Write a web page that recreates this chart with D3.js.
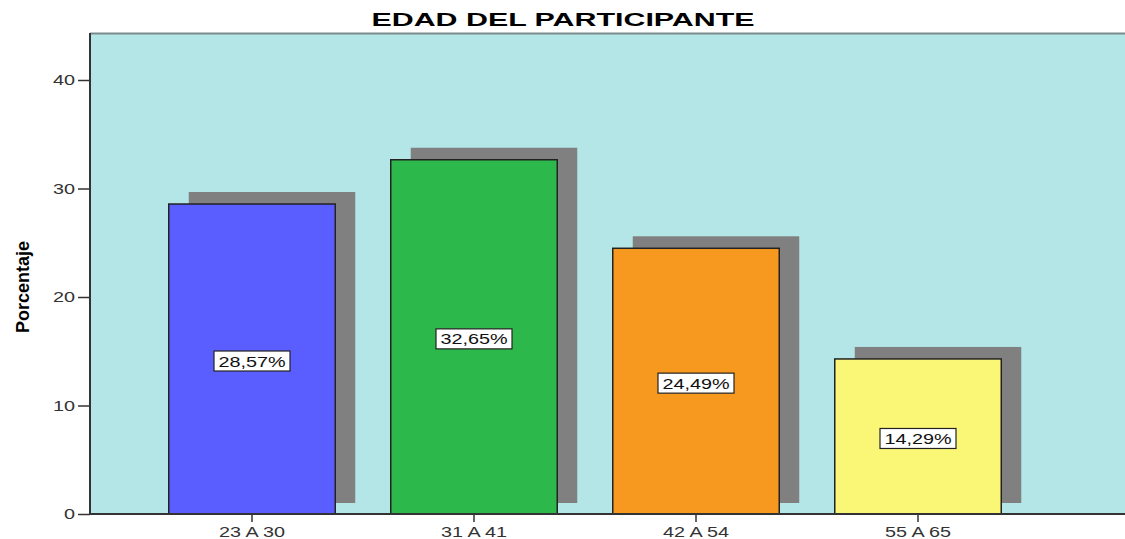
<!DOCTYPE html>
<html lang="es">
<head>
    <meta charset="UTF-8">
    <title>Edad del participante</title>
    <style>
        body { margin: 0; background: #fff; }
        svg { display: block; font-family: "Liberation Sans", Arial, sans-serif; }
    </style>
</head>
<body>
<svg></svg>
<script src="https://d3js.org/d3.v7.min.js"></script>
<script>
    var categories = ["23 A 30", "31 A 41", "42 A 54", "55 A 65"];
    var values = [28.57, 32.65, 24.49, 14.29];
    var labels = ["28,57%", "32,65%", "24,49%", "14,29%"];
    var colors = ["#5b5eff", "#2db84b", "#f7991f", "#fbf776"];
    var yTicks = [0, 10, 20, 30, 40];

    var width = 1125, height = 539;
    var plot = {left: 90, top: 33, right: 1125, bottom: 514};
    var sx = 1.32;   // el original tiene el texto ensanchado

    var svg = d3.select("svg").attr("width", width).attr("height", height);

    var x = d3.scaleBand().domain(categories)
        .range([141, 1029]).paddingInner(0.25).paddingOuter(0.125);
    var y = d3.scaleLinear().domain([0, 40]).range([plot.bottom, 80]);

    // fondo
    svg.append("rect")
        .attr("x", plot.left).attr("y", plot.top)
        .attr("width", plot.right - plot.left).attr("height", plot.bottom - plot.top)
        .style("fill", "#b4e6e7");
    svg.append("line")
        .attr("x1", plot.left).attr("x2", plot.right)
        .attr("y1", plot.top + 0.5).attr("y2", plot.top + 0.5)
        .style("stroke", "#7b8b8b").style("stroke-width", 2);

    var data = categories.map(function (c, i) { return {cat: c, v: values[i], label: labels[i], color: colors[i]}; });

    // sombras
    svg.selectAll("rect.shadow")
        .data(data)
        .enter().append("rect")
        .attr("class", "shadow")
        .attr("x", function (d) { return x(d.cat) + 20; })
        .attr("y", function (d) { return y(d.v) - 12; })
        .attr("width", x.bandwidth())
        .attr("height", function (d) { return y(0) - y(d.v) + 1; })
        .style("fill", "#808080");

    // barras
    svg.selectAll("rect.bar")
        .data(data)
        .enter().append("rect")
        .attr("class", "bar")
        .attr("x", function (d) { return x(d.cat); })
        .attr("y", function (d) { return y(d.v); })
        .attr("width", x.bandwidth())
        .attr("height", function (d) { return y(0) - y(d.v); })
        .style("fill", function (d) { return d.color; })
        .style("stroke", "#222")
        .style("stroke-width", 1.5);

    // etiquetas
    var lab = svg.selectAll("g.lab")
        .data(data)
        .enter().append("g")
        .attr("class", "lab")
        .attr("transform", function (d) {
            return "translate(" + (x(d.cat) + x.bandwidth() / 2) + "," + ((y(d.v) + y(0)) / 2 + 2) + ")";
        });
    lab.append("rect")
        .attr("x", -38).attr("y", -10).attr("width", 76).attr("height", 20)
        .style("fill", "#fff").style("stroke", "#222").style("stroke-width", 1.2);
    lab.append("text")
        .attr("y", 5.5)
        .attr("transform", "scale(" + sx + ",1)")
        .style("text-anchor", "middle")
        .style("font-size", "15px")
        .style("fill", "#111")
        .text(function (d) { return d.label; });

    // ejes
    var yAxis = d3.axisLeft(y).tickValues(yTicks).tickSize(12).tickPadding(3);
    var gy = svg.append("g")
        .attr("transform", "translate(" + plot.left + ",0)")
        .call(yAxis);
    gy.select(".domain").attr("d", "M0," + plot.top + "V" + plot.bottom)
        .style("stroke", "#333").style("stroke-width", 2);
    gy.selectAll(".tick line").style("stroke", "#333").style("stroke-width", 1.5);
    gy.selectAll(".tick text")
        .attr("x", -15 / sx)
        .attr("transform", "scale(" + sx + ",1)")
        .style("font-size", "15px").style("fill", "#333")
        .style("font-family", "'Liberation Sans', Arial, sans-serif");

    var xAxis = d3.axisBottom(x).tickSize(8).tickPadding(4);
    var gx = svg.append("g")
        .attr("transform", "translate(0," + plot.bottom + ")")
        .call(xAxis);
    gx.select(".domain").attr("d", "M" + plot.left + ",0H" + plot.right)
        .style("stroke", "#333").style("stroke-width", 2);
    gx.selectAll(".tick line").attr("y1", 0).style("stroke", "#333").style("stroke-width", 1.5);
    gx.selectAll(".tick text")
        .attr("transform", "scale(" + sx + ",1)")
        .style("font-size", "15px").style("fill", "#333")
        .style("font-family", "'Liberation Sans', Arial, sans-serif");

    // titulo
    svg.append("text")
        .attr("transform", "translate(563,26) scale(1.6,1)")
        .style("text-anchor", "middle")
        .style("font-size", "19px")
        .style("font-weight", "bold")
        .text("EDAD DEL PARTICIPANTE");

    // eje y titulo
    svg.append("text")
        .attr("transform", "rotate(-90)")
        .attr("x", -287).attr("y", 29)
        .style("text-anchor", "middle")
        .style("font-family", "'Liberation Sans Narrow', 'Liberation Sans', Arial, sans-serif")
        .style("font-size", "18px")
        .style("font-weight", "bold")
        .text("Porcentaje");
</script>
</body>
</html>
